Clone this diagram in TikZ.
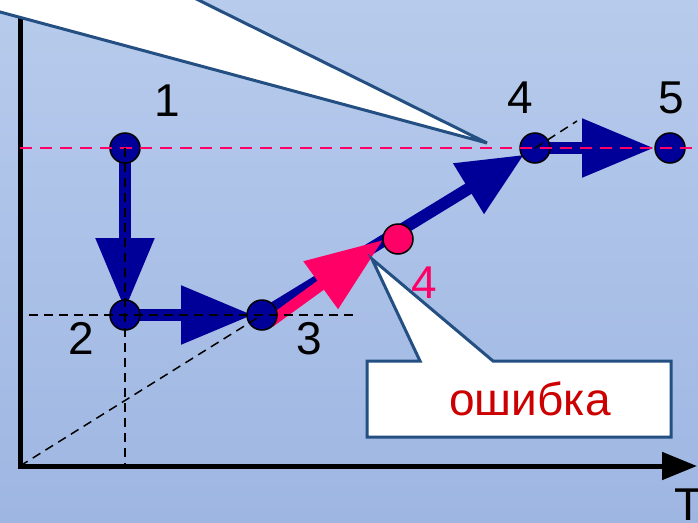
\documentclass[tikz,border=0pt]{standalone}
\usepackage{fontspec}
\setmainfont{Liberation Sans}
\usetikzlibrary{arrows.meta}
\definecolor{bgtop}{RGB}{183,203,236}
\definecolor{bgbot}{RGB}{158,182,226}
\definecolor{dblue}{RGB}{0,0,153}
\definecolor{pinkc}{RGB}{255,0,102}
\definecolor{calloutb}{RGB}{36,79,130}
\definecolor{errred}{RGB}{204,0,0}
\begin{document}
\begin{tikzpicture}[x=1pt,y=-1pt,
  pt/.style={circle,draw=black,line width=1.5pt,fill=dblue,minimum size=30pt,inner sep=0pt},
  ptpink/.style={pt,fill=pinkc},
  lbl/.style={font=\fontsize{46}{46}\selectfont,anchor=base,inner sep=0pt},
  flow/.style={dblue,line width=12pt,-{Triangle[length=72pt,width=56pt]}},
  flowshort/.style={dblue,line width=12pt,-{Triangle[length=65pt,width=56pt]}},
  pflow/.style={pinkc,line width=11pt,-{Triangle[length=77pt,width=56pt]}},
  guide/.style={black,line width=1.5pt,dash pattern=on 9pt off 6pt},
  pguide/.style={pinkc,line width=2pt,dash pattern=on 12pt off 8pt},
  callout/.style={fill=white,draw=calloutb,line width=3pt},
  axisline/.style={black,line width=5pt,-{Triangle[length=35pt,width=27pt]}}]
\useasboundingbox (0,0) rectangle (698,522);
\clip (0,0) rectangle (698,522);
\shade[top color=bgtop,bottom color=bgbot] (0,0) rectangle (698,522);

% named points
\coordinate (c1) at (125,148);
\coordinate (c2) at (125,315);
\coordinate (c3) at (262,315);
\coordinate (c4) at (535,148);
\coordinate (c5) at (670,148);
\coordinate (cp) at (398,239);
\coordinate (o) at (20,466);
\coordinate (axtop) at (20,-10);
\coordinate (axend) at (697,466);
\coordinate (pkstart) at (270,322);
\coordinate (pktip) at (383,240);
\coordinate (dgend) at (577,121);
\coordinate (hl) at (29,315);
\coordinate (hr) at (353,315);
\coordinate (vb) at (125,466);
\coordinate (pl) at (20,148);
\coordinate (pr) at (700,148);

% axes
\draw[axisline] (axtop) -- (o) -- (axend);

% flows
\draw[flow,shorten >=5pt] (c1) -- (c2);
\draw[flow,shorten >=9pt] (c2) -- (c3);
\draw[flowshort,shorten >=13pt] (c3) -- (c4);
\draw[flow,shorten >=16pt] (c4) -- (c5);
\draw[pflow] (pkstart) -- (pktip);

% callouts
\draw[callout] (-20,6.6) -- (487,143) -- (158,-20) -- (-20,-20) -- cycle;
\draw[callout] (367,361) -- (420,361) -- (372,259) -- (493,361) -- (671,361)
  -- (671,437) -- (367,437) -- cycle;

% points
\node[pt] (n1) at (c1) {};
\node[pt] (n2) at (c2) {};
\node[pt] (n3) at (c3) {};
\node[pt] (n4) at (c4) {};
\node[pt] (n5) at (c5) {};
\node[ptpink] (np) at (cp) {};

% guides
\draw[pguide] (pl) -- (pr);
\draw[guide] (c1) -- (vb);
\draw[guide] (hl) -- (hr);
\draw[guide] (o) -- (c3);
\draw[guide] (c4) -- (dgend);

% labels
\node[lbl] (l1) at (167,116) {1};
\node[lbl] (l2) at (81,354) {2};
\node[lbl] (l3) at (309,354) {3};
\node[lbl] (l4) at (520,113) {4};
\node[lbl] (l5) at (671,113) {5};
\node[lbl,text=pinkc] (lp) at (424,298) {4};
\node[lbl,text=errred] (err) at (530,415) {ошибка};
\node[lbl] (lt) at (689,520) {T};
\end{tikzpicture}
\end{document}
